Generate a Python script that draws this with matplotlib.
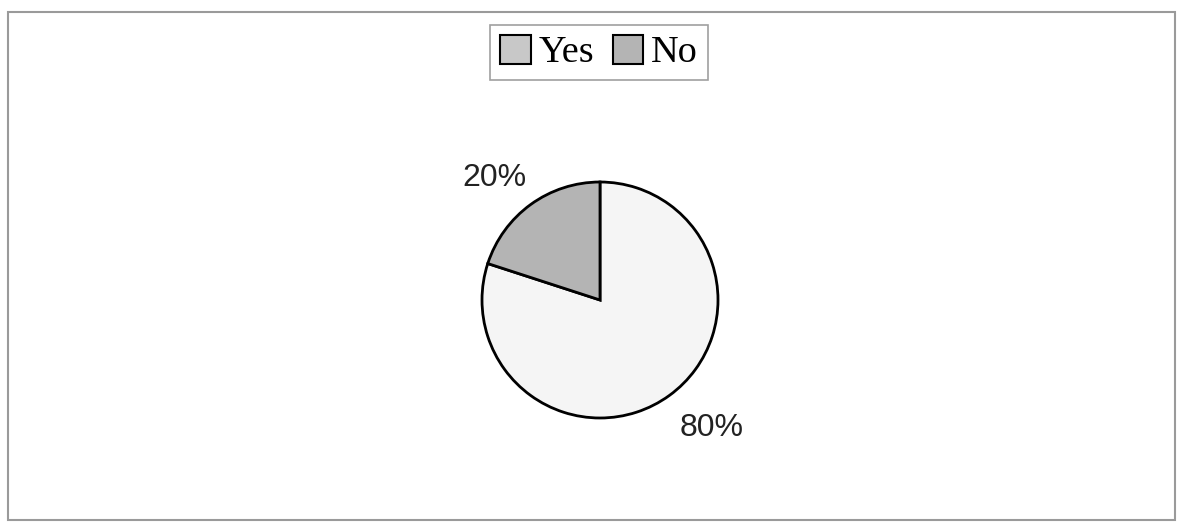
import numpy as np
import matplotlib
matplotlib.use("Agg")
import matplotlib.pyplot as plt
from matplotlib.patches import Patch, Rectangle

labels = ["Yes", "No"]
shares = [80, 20]
colors = ["#f5f5f5", "#b4b4b4"]

W, H = 1179, 524
fig = plt.figure(figsize=(W / 100, H / 100), dpi=100)

# outer chart frame
fig.add_artist(Rectangle((8 / W, 4 / H), 1167 / W, 508 / H, transform=fig.transFigure,
                         fill=False, edgecolor="#9a9a9a", lw=1.5))

# pie centred at ~(600, 300) px with ~118 px radius
L = 1.695
ax = fig.add_axes([400 / W, 24 / H, 400 / W, 400 / H])
wedges, _, pcts = ax.pie(shares, colors=colors, startangle=90, counterclock=False,
                         autopct="%d%%", pctdistance=1.42,
                         wedgeprops=dict(edgecolor="black", linewidth=2),
                         textprops=dict(family="Liberation Sans", fontsize=23,
                                        color="#222222"))
# labels sit a little further round than the wedge middle, as in the original
for w, t, dist in zip(wedges, pcts, [1.44, 1.37]):
    ang = np.deg2rad((w.theta1 + w.theta2) / 2 + 5)
    t.set_position((dist * np.cos(ang), dist * np.sin(ang)))
ax.set_xlim(-L, L)
ax.set_ylim(-L, L)
ax.set_aspect("equal")
ax.axis("off")

handles = [Patch(facecolor=c, edgecolor="black", lw=1.5) for c in ["#c8c8c8", "#b4b4b4"]]
leg = fig.legend(handles, labels, loc="upper center", bbox_to_anchor=(599 / W, 1 - 25 / H),
                 ncol=2, frameon=True, fancybox=False, edgecolor="#888888",
                 prop=dict(family="Liberation Serif", size=27.5),
                 handlelength=0.8, handleheight=0.8, handletextpad=0.2,
                 columnspacing=0.5, borderpad=0.25, borderaxespad=0)
leg.get_frame().set_linewidth(1.2)

fig.savefig("out.png", dpi=100)
